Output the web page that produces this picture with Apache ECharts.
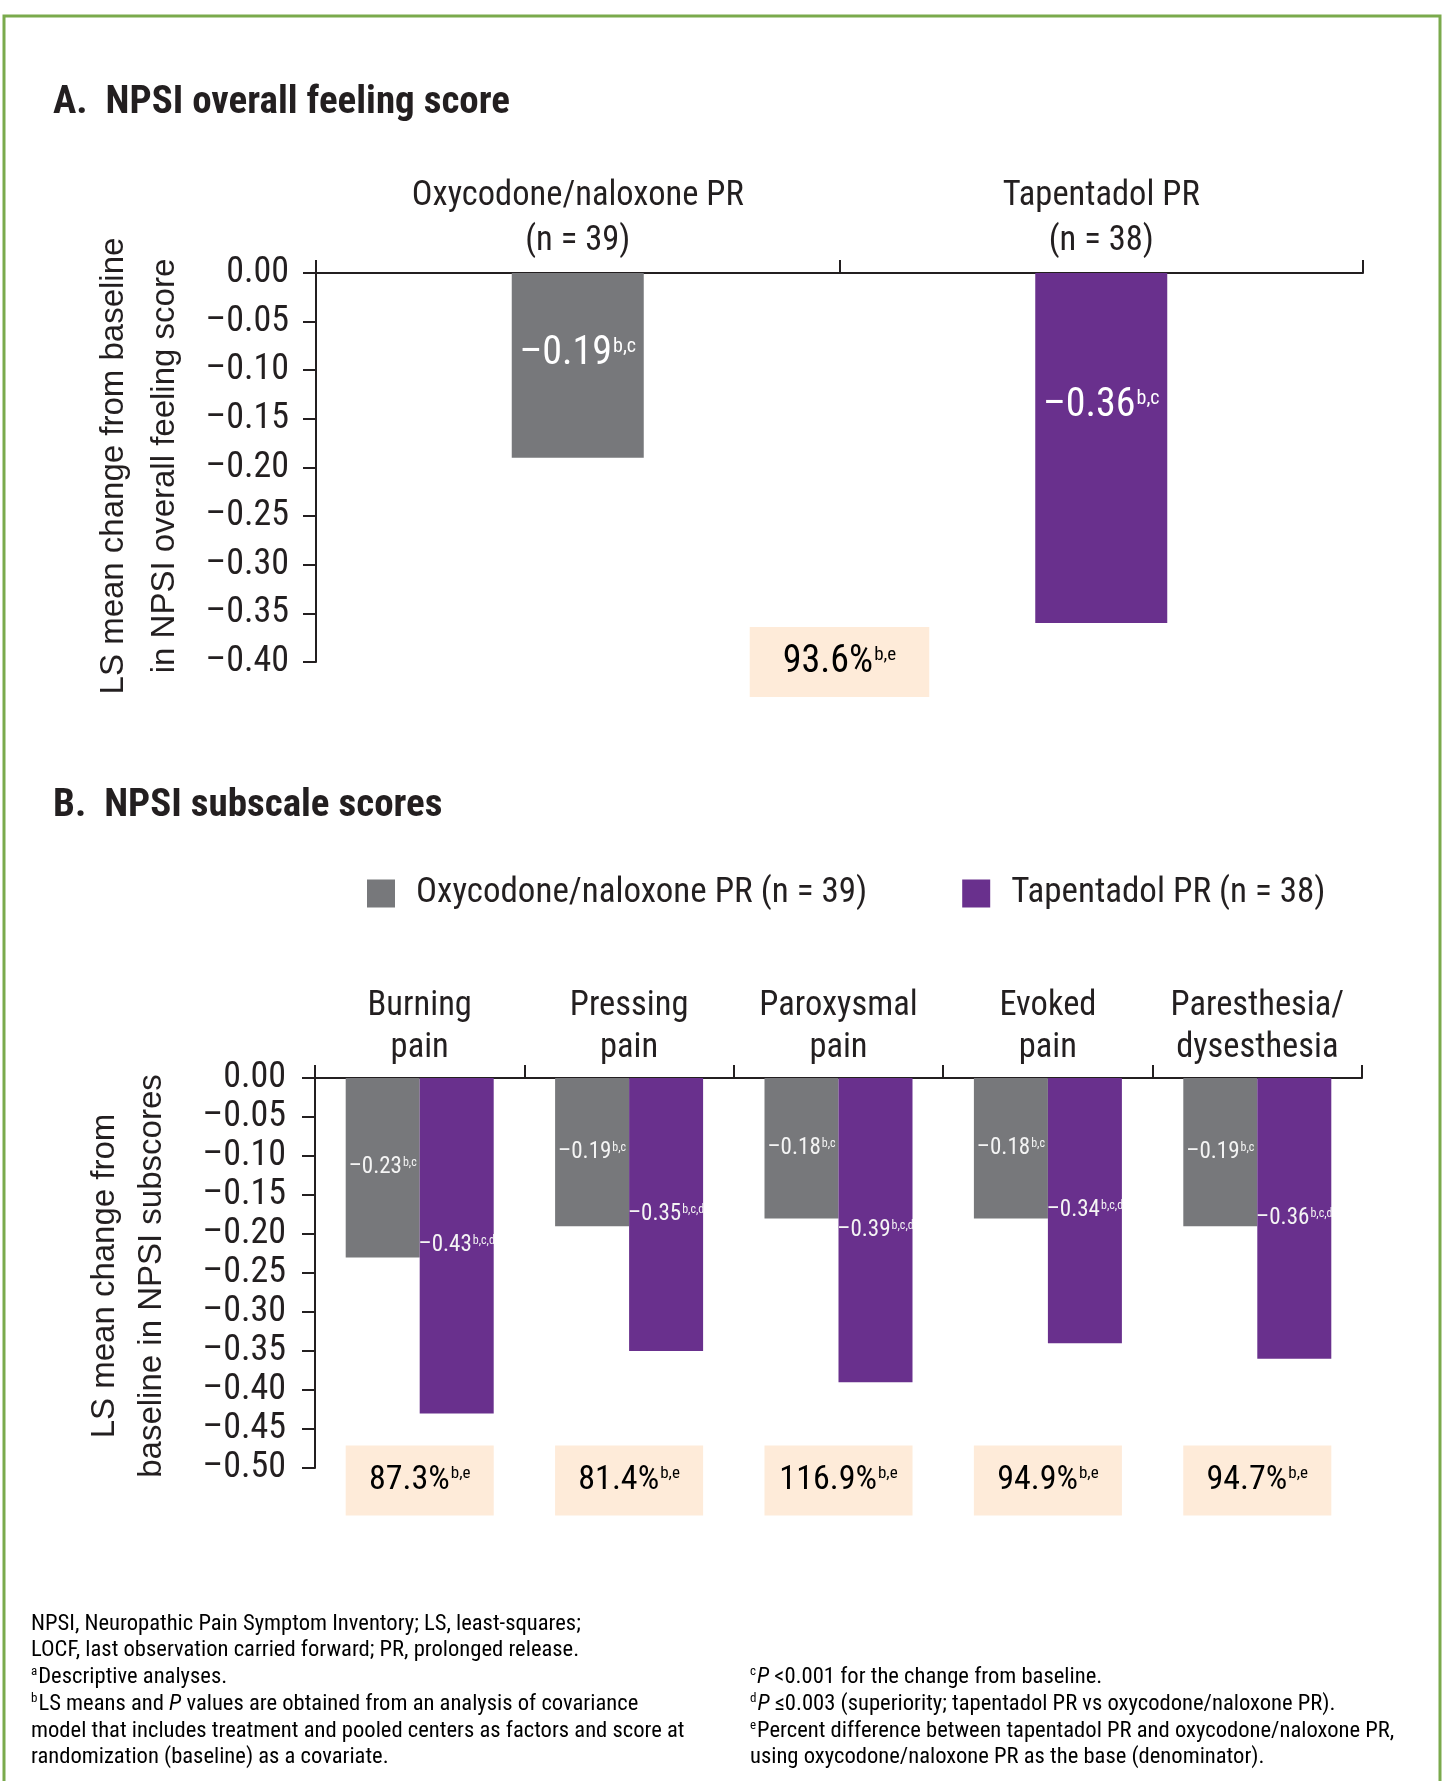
<!DOCTYPE html>
<html>
<head>
<meta charset="utf-8">
<script src="https://cdn.jsdelivr.net/npm/echarts@6/dist/echarts.min.js"></script>
<style>
  html, body { margin: 0; padding: 0; background: #ffffff; }
  #chart { width: 1443px; height: 1781px; }
</style>
</head>
<body>
<div id="chart"></div>
<script>
// ---------- data ----------
const categoriesA = ['Oxycodone/naloxone PR\n(n = 39)', 'Tapentadol PR\n(n = 38)'];
const valuesA = [-0.19, -0.36];
const notesA = ['b,c', 'b,c'];
const percentA = ['93.6%'];
const percentNotesA = ['b,e'];

const categoriesB = ['Burning\npain', 'Pressing\npain', 'Paroxysmal\npain', 'Evoked\npain', 'Paresthesia/\ndysesthesia'];
const seriesNamesB = ['Oxycodone/naloxone PR (n = 39)', 'Tapentadol PR (n = 38)'];
const oxyB = [-0.23, -0.19, -0.18, -0.18, -0.19];
const tapB = [-0.43, -0.35, -0.39, -0.34, -0.36];
const oxyNotesB = ['b,c', 'b,c', 'b,c', 'b,c', 'b,c'];
const tapNotesB = ['b,c,d', 'b,c,d', 'b,c,d', 'b,c,d', 'b,c,d'];
const percentB = ['87.3%', '81.4%', '116.9%', '94.9%', '94.7%'];
const percentNotesB = ['b,e', 'b,e', 'b,e', 'b,e', 'b,e'];

const yTicksA = { min: -0.40, max: 0, step: 0.05 };
const yTicksB = { min: -0.50, max: 0, step: 0.05 };

// ---------- styling ----------
const INK = '#231f20';
const GREY = '#77787b';
const PURPLE = '#69308d';
const PEACH = '#feebd9';
const GREEN = '#7aaa4c';

// pick a narrow sans if one is installed
function pickFont(list, fallback) {
  const ctx = document.createElement('canvas').getContext('2d');
  const sample = 'Oxycodone/naloxone PR 0123456789';
  for (const f of list) {
    ctx.font = '40px monospace';
    const w0 = ctx.measureText(sample).width;
    ctx.font = '40px "' + f + '", monospace';
    const w1 = ctx.measureText(sample).width;
    if (Math.abs(w0 - w1) > 0.5) return f;
  }
  return fallback;
}
const NARROW = pickFont(['Liberation Sans Narrow', 'Arial Narrow', 'Roboto Condensed', 'Roboto'], 'sans-serif');
const REGULAR = pickFont(['Liberation Sans', 'Arial', 'Roboto'], 'sans-serif');

// negative numbers are set with a long dash
const fmt = v => (v < 0 ? '\u2013' : '') + Math.abs(v).toFixed(2);

function barRich(size, sup, color) {
  return {
    v: { fontFamily: NARROW, fontSize: size, color: color, lineHeight: size + 4 },
    s: { fontFamily: NARROW, fontSize: sup, color: color, lineHeight: sup + 2,
         verticalAlign: 'top', padding: [Math.round(size * 0.12), 0, 0, 1] }
  };
}

function valueAxis(grid, ticks, margin) {
  return {
    gridIndex: grid, type: 'value', min: ticks.min, max: ticks.max, interval: ticks.step,
    axisLine: { show: true, lineStyle: { color: INK, width: 2 } },
    axisTick: { show: true, length: 13, lineStyle: { color: INK, width: 2 } },
    splitLine: { show: false },
    axisLabel: { margin: margin, fontFamily: NARROW, fontSize: 36, color: INK, formatter: v => fmt(v) }
  };
}

function categoryAxis(grid, cats, lineHeight) {
  return {
    gridIndex: grid, type: 'category', position: 'top', data: cats, boundaryGap: true,
    axisLine: { show: true, onZero: false, lineStyle: { color: INK, width: 2 } },
    axisTick: { show: true, interval: 0, length: 13, lineStyle: { color: INK, width: 2 } },
    axisLabel: { interval: 0, margin: 9, fontFamily: NARROW, fontSize: 34.5, lineHeight: lineHeight, color: INK }
  };
}

// percent-difference boxes drawn through the axis scales
function boxSeries(xi, yi, labels, notes, level, widthFrac, height, fontSize, between) {
  return {
    type: 'custom', xAxisIndex: xi, yAxisIndex: yi, clip: false, z: 5,
    data: labels.map((_, i) => [i, level]),
    renderItem: (params, api) => {
      const i = params.dataIndex;
      let c = api.coord([i, level]);
      if (between) {
        const c2 = api.coord([i + 1, level]);
        c = [(c[0] + c2[0]) / 2, c[1]];
      }
      const w = api.size([1, 0])[0] * widthFrac;
      return {
        type: 'group',
        children: [
          { type: 'rect', shape: { x: c[0] - w / 2, y: c[1] - height / 2, width: w, height: height },
            style: { fill: PEACH } },
          { type: 'text', x: c[0], y: c[1],
            style: { text: '{v|' + labels[i] + '}{s|' + notes[i] + '}',
                     align: 'center', verticalAlign: 'middle',
                     rich: barRich(fontSize, Math.round(fontSize * 0.5), INK) } }
        ]
      };
    }
  };
}

const labelPosA = [['50%', '44%'], ['50%', '38%']];

const option = {
  animation: false,
  backgroundColor: '#ffffff',
  grid: [
    { left: 316, top: 273, width: 1047, height: 389 },
    { left: 315, top: 1078, width: 1047, height: 390 }
  ],
  xAxis: [categoryAxis(0, categoriesA, 45), categoryAxis(1, categoriesB, 42)],
  yAxis: [valueAxis(0, yTicksA, 27), valueAxis(1, yTicksB, 29)],
  legend: {
    data: seriesNamesB, left: 362, top: 871, icon: 'rect',
    itemWidth: 28, itemHeight: 28, itemGap: 95,
    formatter: n => '{t|' + n + '}',
    textStyle: { rich: { t: { fontFamily: NARROW, fontSize: 35, color: INK, padding: [0, 0, 0, 16] } } }
  },
  series: [
    {
      type: 'bar', name: 'overall', xAxisIndex: 0, yAxisIndex: 0, barWidth: 132,
      data: valuesA.map((v, i) => ({
        value: v,
        itemStyle: { color: i === 0 ? GREY : PURPLE },
        label: { position: labelPosA[i] }
      })),
      label: {
        show: true, align: 'center', verticalAlign: 'middle',
        formatter: p => '{v|' + fmt(p.value) + '}{s|' + notesA[p.dataIndex] + '}',
        rich: barRich(40, 20, '#ffffff')
      }
    },
    {
      type: 'bar', name: seriesNamesB[0], xAxisIndex: 1, yAxisIndex: 1,
      barWidth: 74, barGap: '0%', itemStyle: { color: GREY }, data: oxyB,
      label: {
        show: true, position: 'inside',
        formatter: p => '{v|' + fmt(p.value) + '}{s|' + oxyNotesB[p.dataIndex] + '}',
        rich: barRich(23, 12, '#f4f4f4')
      }
    },
    {
      type: 'bar', name: seriesNamesB[1], xAxisIndex: 1, yAxisIndex: 1,
      barWidth: 74, barGap: '0%', itemStyle: { color: PURPLE }, data: tapB,
      label: {
        show: true, position: 'inside',
        formatter: p => '{v|' + fmt(p.value) + '}{s|' + tapNotesB[p.dataIndex] + '}',
        rich: barRich(23, 12, '#f4f4f4')
      }
    },
    boxSeries(0, 0, percentA, percentNotesA, -0.40, 0.343, 70, 38, true),
    boxSeries(1, 1, percentB, percentNotesB, -0.516, 0.707, 70, 34, false)
  ],
  graphic: []
};

// frame, headings, axis titles, footnotes
const g = option.graphic;
g.push({ type: 'rect', shape: { x: 4, y: 16, width: 1436, height: 1800 },
         style: { fill: 'none', stroke: GREEN, lineWidth: 3 }, silent: true });
g.push({ type: 'text', x: 53, y: 103.5,
         style: { text: 'A.  NPSI overall feeling score', font: 'bold 39px "' + NARROW + '"', fill: INK, verticalAlign: 'middle' } });
g.push({ type: 'text', x: 53, y: 806.5,
         style: { text: 'B.  NPSI subscale scores', font: 'bold 39px "' + NARROW + '"', fill: INK, verticalAlign: 'middle' } });
g.push({ type: 'text', x: 139, y: 466, rotation: Math.PI / 2,
         style: { text: 'LS mean change from baseline\nin NPSI overall feeling score', font: '33px "' + REGULAR + '"',
                  fill: INK, align: 'center', verticalAlign: 'middle', lineHeight: 51 } });
g.push({ type: 'text', x: 128, y: 1276, rotation: Math.PI / 2,
         style: { text: 'LS mean change from\nbaseline in NPSI subscores', font: '33px "' + REGULAR + '"',
                  fill: INK, align: 'center', verticalAlign: 'middle', lineHeight: 47 } });

const noteRich = {
  t: { fontFamily: NARROW, fontSize: 22.6, color: INK },
  i: { fontFamily: NARROW, fontSize: 22.6, color: INK, fontStyle: 'italic' },
  s: { fontFamily: NARROW, fontSize: 13, color: INK, verticalAlign: 'top', padding: [0, 1, 0, 0] }
};
const leftNotes = [
  '{t|NPSI, Neuropathic Pain Symptom Inventory; LS, least-squares;}',
  '{t|LOCF, last observation carried forward; PR, prolonged release.}',
  '{s|a}{t|Descriptive analyses.}',
  '{s|b}{t|LS means and }{i|P}{t| values are obtained from an analysis of covariance}',
  '{t|model that includes treatment and pooled centers as factors and score at}',
  '{t|randomization (baseline) as a covariate.}'
];
const rightNotes = [
  '{s|c}{i|P}{t| <0.001 for the change from baseline.}',
  '{s|d}{i|P}{t| \u22640.003 (superiority; tapentadol PR vs oxycodone/naloxone PR).}',
  '{s|e}{t|Percent difference between tapentadol PR and oxycodone/naloxone PR,}',
  '{t|using oxycodone/naloxone PR as the base (denominator).}'
];
const noteY = [1624, 1650.5, 1677, 1704, 1731, 1757];
leftNotes.forEach((txt, k) => g.push({ type: 'text', x: 31, y: noteY[k],
  style: { text: txt, rich: noteRich, verticalAlign: 'middle' } }));
rightNotes.forEach((txt, k) => g.push({ type: 'text', x: 750, y: noteY[k + 2],
  style: { text: txt, rich: noteRich, verticalAlign: 'middle' } }));

const chart = echarts.init(document.getElementById('chart'), null, { renderer: 'canvas' });
chart.setOption(option);
</script>
</body>
</html>
